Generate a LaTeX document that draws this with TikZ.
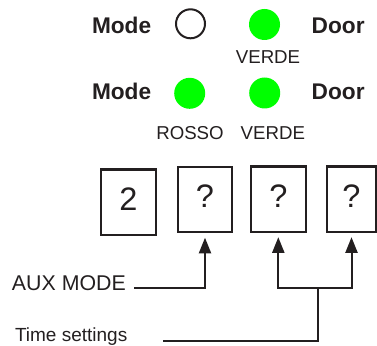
\documentclass[tikz,border=0pt]{standalone}
\usepackage{fontspec}
\setmainfont{Liberation Sans}
\usetikzlibrary{arrows.meta}
\definecolor{ink}{RGB}{35,31,32}
\definecolor{led}{RGB}{0,255,0}
\begin{document}
\begin{tikzpicture}[x=0.75pt,y=-0.75pt,
  every node/.style={inner sep=0pt, outer sep=0pt, text=ink},
  big/.style={font=\fontsize{17}{18}\selectfont\bfseries, anchor=base west},
  small/.style={font=\fontsize{14}{16}\selectfont, anchor=base},
  lbl/.style={font=\fontsize{16}{18}\selectfont, anchor=base west},
  lbltwo/.style={font=\fontsize{14.25}{16}\selectfont, anchor=base west},
  digit/.style={font=\fontsize{24.4}{28}\selectfont, anchor=base},
  ledon/.style={circle, fill=led, minimum size=23.25pt},
  ledoff/.style={circle, draw=ink, line width=1.5pt, minimum size=21.75pt},
  box/.style={draw=ink, line width=1.6pt, minimum width=41pt, minimum height=49pt},
  wire/.style={draw=ink, line width=1.5pt},
  arr/.style={wire, -{Triangle[length=11.7pt,width=9pt]}, shorten >=4pt}]
\useasboundingbox (0,0) rectangle (377,345);
% LED rows
\node[big] (mode1) at (92,33.3) {Mode};
\node[big] (door1) at (311.7,33.3) {Door};
\node[ledoff] (m1) at (190.5,23.8) {};
\node[ledon] (d1) at (264.5,24.5) {};
\node[small] (v1) at (268,64) {VERDE};
\node[big] (mode2) at (92,100) {Mode};
\node[big] (door2) at (311.7,100) {Door};
\node[ledon] (m2) at (189.7,93.3) {};
\node[ledon] (d2) at (264.7,93) {};
\node[small] (r2) at (190,140) {ROSSO};
\node[small] (v2) at (272.8,140) {VERDE};
% display boxes
\node[box] (b1) at (128.4,202.2) {};
\node[box] (b2) at (205,199.7) {};
\node[box] (b3) at (278.3,199.2) {};
\node[box, minimum width=36.5pt] (b4) at (351.5,199.2) {};
\node[digit] (t1) at (128.4,210) {2};
\node[digit] (t2) at (205,207.5) {?};
\node[digit] (t3) at (278.3,207.5) {?};
\node[digit] (t4) at (351.5,207.5) {?};
% labels and connectors
\node[lbl] (aux) at (12,290) {AUX MODE};
\node[lbltwo] (time) at (15,341) {Time settings};
\coordinate (auxS) at (134,288.3);
\coordinate (timeS) at (163,341);
\coordinate (join) at (318.3,288.3);
\draw[arr] (auxS) -| (b2.south);
\draw[wire] (timeS) -| (join);
\draw[arr] (join) -| (b3.south);
\draw[arr] (join) -| (b4.south);
\end{tikzpicture}
\end{document}
